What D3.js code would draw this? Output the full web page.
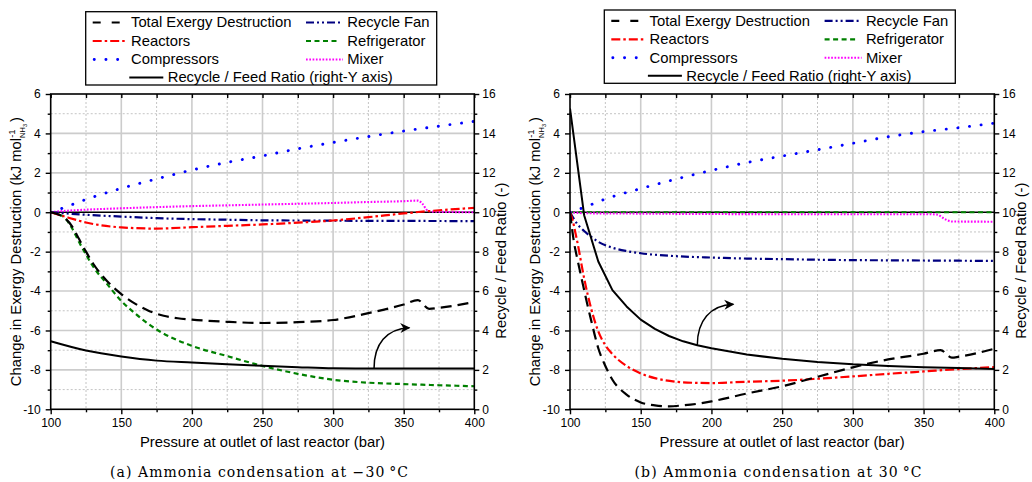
<!DOCTYPE html>
<html>
<head>
<meta charset="utf-8">
<script src="https://cdn.jsdelivr.net/npm/d3@7"></script>
<style>
  html, body { margin: 0; padding: 0; background: #fff; }
  svg { display: block; font-family: "Liberation Sans", Arial, sans-serif; }
</style>
</head>
<body>
<svg id="chart" width="1032" height="482"></svg>
<script>
// ---------- axis ticks ----------
const pressureTicks = [100, 150, 200, 250, 300, 350, 400];
const exergyTicks = [6, 4, 2, 0, -2, -4, -6, -8, -10];
const ratioTicks = [16, 14, 12, 10, 8, 6, 4, 2, 0];

const legendNames = ["Total Exergy Destruction", "Recycle Fan", "Reactors", "Refrigerator",
                     "Compressors", "Mixer", "Recycle / Feed Ratio (right-Y axis)"];

// ---------- (a) condensation at -30 °C ----------
const totalA_p = [100, 105, 110, 115, 120, 125, 130, 140, 150, 160, 170, 180, 190, 200, 225, 250, 275, 300, 325, 350, 360, 368, 375, 400];
const totalA   = [0, -0.1, -0.3, -0.7, -1.35, -2.0, -2.6, -3.5, -4.15, -4.65, -5.02, -5.25, -5.38, -5.45, -5.56, -5.62, -5.58, -5.47, -5.12, -4.68, -4.46, -4.9, -4.85, -4.55];

const reactorsA_p = [100, 110, 125, 150, 175, 200, 225, 250, 275, 300, 325, 350, 375, 400];
const reactorsA   = [0, -0.22, -0.52, -0.77, -0.83, -0.76, -0.69, -0.62, -0.53, -0.42, -0.25, -0.06, 0.1, 0.22];

const compressorsA_p = [100, 110, 125, 150, 175, 200, 225, 250, 275, 300, 325, 350, 375, 400];
const compressorsA   = [0, 0.25, 0.65, 1.21, 1.69, 2.14, 2.53, 2.86, 3.22, 3.54, 3.84, 4.12, 4.37, 4.61];

const fanA_p = [100, 125, 150, 175, 200, 225, 250, 275, 300, 350, 400];
const fanA   = [0, -0.13, -0.22, -0.3, -0.35, -0.38, -0.41, -0.42, -0.43, -0.44, -0.45];

const refrigeratorA_p = [100, 105, 110, 115, 120, 125, 130, 140, 150, 160, 175, 200, 225, 250, 275, 300, 325, 350, 375, 400];
const refrigeratorA   = [0, -0.1, -0.28, -0.8, -1.5, -2.15, -2.75, -3.65, -4.5, -5.15, -5.95, -6.78, -7.3, -7.8, -8.2, -8.5, -8.65, -8.72, -8.78, -8.83];

const mixerA_p = [100, 110, 125, 150, 175, 200, 225, 250, 275, 300, 325, 350, 360, 363, 367, 370, 400];
const mixerA   = [0, 0.07, 0.13, 0.2, 0.26, 0.31, 0.35, 0.39, 0.43, 0.47, 0.52, 0.56, 0.59, 0.45, 0.08, 0.03, 0.0];

const ratioA_p = [100, 125, 150, 175, 200, 225, 250, 275, 300, 325, 350, 375, 400];
const ratioA   = [3.45, 2.98, 2.68, 2.47, 2.37, 2.28, 2.21, 2.14, 2.08, 2.07, 2.07, 2.07, 2.07];

// ---------- (b) condensation at 30 °C ----------
const totalB_p = [100, 103, 105, 108, 110, 112, 115, 120, 125, 130, 140, 150, 160, 170, 180, 190, 200, 225, 250, 275, 300, 325, 350, 362, 370, 375, 400];
const totalB   = [0, -1.6, -2.3, -3.3, -3.95, -4.6, -5.5, -6.9, -7.8, -8.5, -9.25, -9.65, -9.8, -9.85, -9.8, -9.72, -9.6, -9.2, -8.83, -8.35, -7.87, -7.47, -7.18, -7.0, -7.38, -7.33, -6.93];

const reactorsB_p = [100, 102, 104, 106, 108, 110, 115, 120, 125, 130, 140, 150, 160, 175, 190, 200, 225, 250, 275, 300, 325, 350, 375, 400];
const reactorsB   = [0, -0.45, -1.1, -1.8, -2.6, -3.35, -4.9, -6.05, -6.75, -7.2, -7.8, -8.18, -8.42, -8.6, -8.66, -8.67, -8.6, -8.55, -8.45, -8.33, -8.2, -8.08, -7.96, -7.86];

const compressorsB_p = [100, 110, 125, 150, 175, 200, 225, 250, 275, 300, 325, 350, 375, 400];
const compressorsB   = [0, 0.25, 0.67, 1.2, 1.68, 2.12, 2.52, 2.85, 3.17, 3.5, 3.83, 4.09, 4.29, 4.52];

const fanB_p = [100, 105, 110, 115, 120, 130, 140, 150, 175, 200, 225, 250, 275, 300, 325, 350, 375, 400];
const fanB   = [0, -0.58, -0.95, -1.25, -1.5, -1.8, -1.97, -2.08, -2.23, -2.3, -2.35, -2.38, -2.41, -2.43, -2.44, -2.45, -2.46, -2.47];

const refrigeratorB_p = [100, 150, 200, 250, 300, 350, 400];
const refrigeratorB   = [0, 0, 0, 0, 0, 0, 0];

const mixerB_p = [100, 110, 150, 200, 250, 300, 355, 360, 365, 370, 400];
const mixerB   = [0, -0.05, -0.07, -0.09, -0.1, -0.1, -0.1, -0.13, -0.35, -0.47, -0.48];

const ratioB_p = [100, 110, 120, 130, 140, 150, 160, 170, 180, 190, 200, 225, 250, 275, 300, 325, 350, 375, 400];
const ratioB   = [15.27, 9.85, 7.5, 6.05, 5.22, 4.55, 4.08, 3.72, 3.45, 3.25, 3.1, 2.78, 2.56, 2.4, 2.28, 2.2, 2.14, 2.09, 2.04];

// arrow annotations pointing at the right-hand axis: [pressure, ratio] start and tip
const arrowA = [[329, 2.07], [354, 4.14]];
const arrowB = [[190, 3.25], [215.5, 5.33]];

// ---------- line styles ----------
const styles = {
  total:        { color: "#000000", dash: "11,6",        width: 2.2, legendDash: "8,11" },
  reactors:     { color: "#ff0000", dash: "9,3,2.5,3",   width: 2.2 },
  compressors:  { color: "#0000ff", dash: "0.1,11.6",    width: 2.9, cap: "round" },
  fan:          { color: "#000080", dash: "8,3,2,3,2,3", width: 2.2 },
  refrigerator: { color: "#008000", dash: "5,3.5",       width: 2.2 },
  mixer:        { color: "#ff00ff", dash: "1.7,1.6",     width: 2.1 },
  ratio:        { color: "#000000", dash: null,          width: 2.0 }
};

const svg = d3.select("#chart");
const defs = svg.append("defs");
defs.append("marker")
  .attr("id", "arrowHead").attr("viewBox", "-10 -6 12 12")
  .attr("refX", 0).attr("refY", 0)
  .attr("markerWidth", 12).attr("markerHeight", 12)
  .attr("markerUnits", "userSpaceOnUse").attr("orient", "auto")
  .append("path").attr("d", "M1,0 L-9,-5 L-6,0 L-9,5 Z").attr("fill", "#000");

const FONT = '"Liberation Sans", Arial, sans-serif';
const yTop = 94, yBottom = 409.3;

function drawPanel(cfg) {
  const g = svg.append("g");
  const x = d3.scaleLinear().domain([100, 400]).range([cfg.x0, cfg.x1]);
  const y = d3.scaleLinear().domain([-10, 6]).range([yBottom, yTop]);
  const yR = d3.scaleLinear().domain([0, 16]).range([yBottom, yTop]);

  const clipId = "clip" + cfg.id;
  defs.append("clipPath").attr("id", clipId).append("rect")
    .attr("x", cfg.x0).attr("y", yTop).attr("width", cfg.x1 - cfg.x0).attr("height", yBottom - yTop);

  // grid
  const grid = g.append("g");
  const xMinor = d3.range(125, 400, 50), xMajor = d3.range(150, 400, 50);
  const yMinor = d3.range(-9, 6, 2), yMajor = [-8, -6, -4, -2, 2, 4];
  grid.selectAll(".gxm").data(xMinor).join("line")
    .attr("x1", d => x(d)).attr("x2", d => x(d)).attr("y1", yTop).attr("y2", yBottom)
    .attr("stroke", "#c4c4c4").attr("stroke-width", 1).attr("stroke-dasharray", "2,2");
  grid.selectAll(".gym").data(yMinor).join("line")
    .attr("y1", d => y(d)).attr("y2", d => y(d)).attr("x1", cfg.x0).attr("x2", cfg.x1)
    .attr("stroke", "#c4c4c4").attr("stroke-width", 1).attr("stroke-dasharray", "2,2");
  grid.selectAll(".gxM").data(xMajor).join("line")
    .attr("x1", d => x(d)).attr("x2", d => x(d)).attr("y1", yTop).attr("y2", yBottom)
    .attr("stroke", "#cccccc").attr("stroke-width", 1.6);
  grid.selectAll(".gyM").data(yMajor).join("line")
    .attr("y1", d => y(d)).attr("y2", d => y(d)).attr("x1", cfg.x0).attr("x2", cfg.x1)
    .attr("stroke", "#cccccc").attr("stroke-width", 1.6);

  // zero reference line
  g.append("line").attr("x1", cfg.x0).attr("x2", cfg.x1).attr("y1", y(0)).attr("y2", y(0))
    .attr("stroke", "#000").attr("stroke-width", 1.5);

  // series
  const plot = g.append("g").attr("clip-path", `url(#${clipId})`);
  cfg.series.forEach(s => {
    const st = styles[s.style];
    const sy = s.right ? yR : y;
    const pts = s.p.map((p, i) => [p, s.v[i]]);
    const line = d3.line().x(d => x(d[0])).y(d => sy(d[1]))
      .curve(s.linear ? d3.curveLinear : d3.curveMonotoneX);
    plot.append("path").attr("d", line(pts))
      .attr("fill", "none").attr("stroke", st.color).attr("stroke-width", st.width)
      .attr("stroke-dasharray", st.dash).attr("stroke-linecap", st.cap || "butt")
      .attr("stroke-linejoin", "round");
  });

  // arrow
  const [a0, a1] = cfg.arrow;
  const sx = x(a0[0]), sy0 = yR(a0[1]), tx = x(a1[0]), ty = yR(a1[1]);
  g.append("path")
    .attr("d", `M${sx},${sy0} C${sx},${sy0 - (sy0 - ty) * 0.6} ${sx + (tx - sx) * 0.35},${ty + 1} ${tx},${ty}`)
    .attr("fill", "none").attr("stroke", "#000").attr("stroke-width", 1.5)
    .attr("marker-end", "url(#arrowHead)");

  // axes
  const styleAxis = sel => {
    sel.select(".domain").remove();
    sel.selectAll(".tick line").attr("stroke", "#000").attr("stroke-width", 1.4);
    sel.selectAll(".tick text").attr("font-family", FONT).attr("font-size", 12).attr("fill", "#000");
  };
  g.append("g").attr("transform", `translate(0,${yBottom})`)
    .call(d3.axisBottom(x).tickValues(pressureTicks).tickSize(5).tickPadding(4)).call(styleAxis);
  g.append("g").attr("transform", `translate(0,${yBottom})`)
    .call(d3.axisBottom(x).tickValues(xMinor).tickSize(3).tickFormat("")).call(styleAxis);
  g.append("g").attr("transform", `translate(0,${yTop})`)
    .call(d3.axisTop(x).tickValues(d3.range(100, 401, 25)).tickSize(-4).tickFormat("")).call(styleAxis);
  g.append("g").attr("transform", `translate(${cfg.x0},0)`)
    .call(d3.axisLeft(y).tickValues(exergyTicks).tickSize(5).tickPadding(5).tickFormat(d => String(d)))
    .call(styleAxis);
  g.append("g").attr("transform", `translate(${cfg.x0},0)`)
    .call(d3.axisLeft(y).tickValues(yMinor).tickSize(3).tickFormat("")).call(styleAxis);
  g.append("g").attr("transform", `translate(${cfg.x1},0)`)
    .call(d3.axisRight(yR).tickValues(ratioTicks).tickSize(5).tickPadding(3)).call(styleAxis);
  g.append("g").attr("transform", `translate(${cfg.x1},0)`)
    .call(d3.axisRight(yR).tickValues(d3.range(1, 16, 2)).tickSize(3).tickFormat("")).call(styleAxis);

  // frame
  g.append("rect").attr("x", cfg.x0).attr("y", yTop).attr("width", cfg.x1 - cfg.x0).attr("height", yBottom - yTop)
    .attr("fill", "none").attr("stroke", "#000").attr("stroke-width", 1.6);

  // axis titles
  const midX = (cfg.x0 + cfg.x1) / 2, midY = (yTop + yBottom) / 2;
  g.append("text").attr("x", midX).attr("y", 447).attr("text-anchor", "middle")
    .attr("font-family", FONT).attr("font-size", 14.8).text("Pressure at outlet of last reactor (bar)");

  const lt = g.append("text").attr("transform", `translate(${cfg.x0 - 30},${midY}) rotate(-90)`)
    .attr("text-anchor", "middle").attr("font-family", FONT).attr("font-size", 14.8);
  lt.append("tspan").text("Change in Exergy Destruction (kJ mol");
  lt.append("tspan").attr("font-size", 9.5).attr("dy", -6).text("-1");
  lt.append("tspan").attr("font-size", 7.5).attr("dx", -8.5).attr("dy", 10).text("NH");
  lt.append("tspan").attr("font-size", 5.5).attr("dy", 2).text("3");
  lt.append("tspan").attr("dx", 2).attr("dy", -6).text(")");

  g.append("text").attr("transform", `translate(${cfg.x1 + 32},${midY + 9}) rotate(-90)`)
    .attr("text-anchor", "middle").attr("font-family", FONT).attr("font-size", 14.8)
    .text("Recycle / Feed Ratio (-)");

  // caption
  g.append("text").attr("x", cfg.captionX).attr("y", 477).attr("text-anchor", "middle")
    .attr("font-family", '"DejaVu Serif", "Liberation Serif", serif').attr("font-size", 14)
    .attr("textLength", cfg.captionLen).attr("lengthAdjust", "spacing")
    .text(cfg.caption);

  // legend
  const L = g.append("g").attr("transform", `translate(${cfg.legendX},${cfg.legendY})`);
  L.append("rect").attr("x", 0).attr("y", 0).attr("width", 351).attr("height", 73.3)
    .attr("fill", "#fff").attr("stroke", "#000").attr("stroke-width", 1.3);
  const rows = [15.8, 34.3, 52.8, 70.8];
  const items = [
    { key: "total",        name: legendNames[0], row: 0, s0: 7,     len: 27,  tx: 45.3 },
    { key: "fan",          name: legendNames[1], row: 0, s0: 220.3, len: 37,  tx: 261.6 },
    { key: "reactors",     name: legendNames[2], row: 1, s0: 7,     len: 35,  tx: 45.3 },
    { key: "refrigerator", name: legendNames[3], row: 1, s0: 220.3, len: 33,  tx: 261.6 },
    { key: "compressors",  name: legendNames[4], row: 2, s0: 8.5,   len: 25,  tx: 45.3 },
    { key: "mixer",        name: legendNames[5], row: 2, s0: 220.3, len: 37,  tx: 261.6 },
    { key: "ratio",        name: legendNames[6], row: 3, s0: 43.6,  len: 34,  tx: 82 }
  ];
  items.forEach(it => {
    const st = styles[it.key];
    const yy = rows[it.row] - 5;
    L.append("line").attr("x1", it.s0).attr("x2", it.s0 + it.len).attr("y1", yy).attr("y2", yy)
      .attr("stroke", st.color).attr("stroke-width", st.width)
      .attr("stroke-dasharray", st.legendDash || st.dash).attr("stroke-linecap", st.cap || "butt");
    L.append("text").attr("x", it.tx).attr("y", rows[it.row]).attr("font-family", FONT)
      .attr("font-size", 14.8).text(it.name);
  });
}

drawPanel({
  id: "A", x0: 50.7, x1: 474.3, legendX: 85.7, legendY: 11.7,
  caption: "(a) Ammonia condensation at \u221230\u2009\u00b0C", captionX: 259, captionLen: 298,
  arrow: arrowA,
  series: [
    { p: refrigeratorA_p, v: refrigeratorA, style: "refrigerator" },
    { p: mixerA_p, v: mixerA, style: "mixer" },
    { p: fanA_p, v: fanA, style: "fan" },
    { p: reactorsA_p, v: reactorsA, style: "reactors" },
    { p: compressorsA_p, v: compressorsA, style: "compressors" },
    { p: totalA_p, v: totalA, style: "total" },
    { p: ratioA_p, v: ratioA, style: "ratio", right: true }
  ]
});

drawPanel({
  id: "B", x0: 570, x1: 994.3, legendX: 604.3, legendY: 10,
  caption: "(b) Ammonia condensation at 30\u2009\u00b0C", captionX: 778, captionLen: 287,
  arrow: arrowB,
  series: [
    { p: refrigeratorB_p, v: refrigeratorB, style: "refrigerator" },
    { p: mixerB_p, v: mixerB, style: "mixer" },
    { p: fanB_p, v: fanB, style: "fan" },
    { p: reactorsB_p, v: reactorsB, style: "reactors" },
    { p: compressorsB_p, v: compressorsB, style: "compressors" },
    { p: totalB_p, v: totalB, style: "total" },
    { p: ratioB_p, v: ratioB, style: "ratio", right: true, linear: true }
  ]
});
</script>
</body>
</html>
